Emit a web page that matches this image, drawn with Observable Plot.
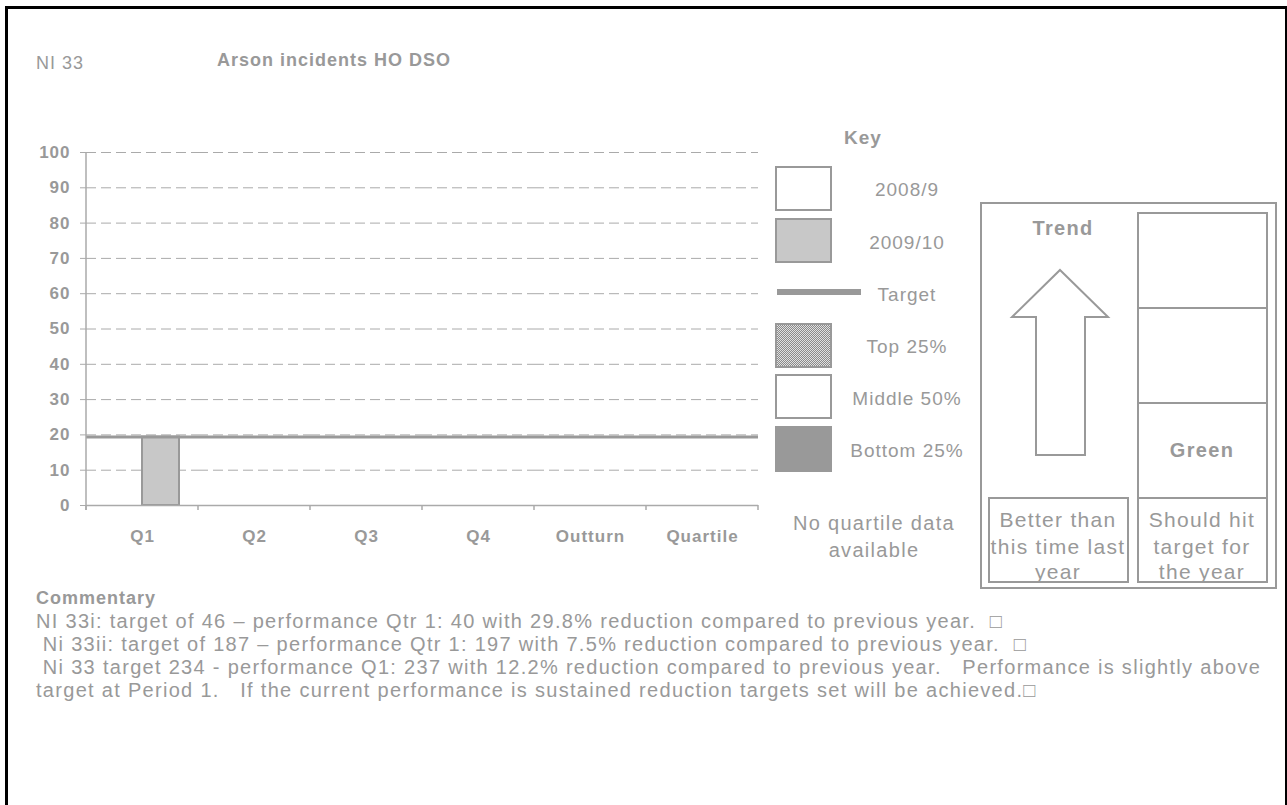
<!DOCTYPE html>
<html>
<head>
<meta charset="utf-8">
<script src="https://cdn.jsdelivr.net/npm/d3@7"></script>
<script src="https://cdn.jsdelivr.net/npm/@observablehq/plot@0.6"></script>
<style>
  html, body { margin: 0; padding: 0; background: #fff; }
  body { font-family: "Liberation Sans", Arial, sans-serif; color: #999; }
  #page { position: relative; width: 1287px; height: 805px; overflow: hidden; background: #fff; }
  #border { position: absolute; left: 5px; top: 6px; width: 1283px; height: 830px; border: 3px solid #000; box-sizing: border-box; }
  .t { position: absolute; white-space: nowrap; line-height: 1; font-size: 18px; letter-spacing: 1px; color: #999; }
  .c { transform: translate(-50%, -50%); text-align: center; }
  .l { transform: translate(0, -50%); }
  .b { font-weight: bold; }
  .k { font-size: 19px; }
  .m { font-size: 20px; letter-spacing: 1.3px; }
  .p { font-size: 21px; letter-spacing: 1.3px; }
  .box { position: absolute; box-sizing: border-box; border: 2px solid #999; background: #fff; }
  #chart { position: absolute; left: 0; top: 130px; }
  #trendsvg { position: absolute; left: 0; top: 0; }
</style>
</head>
<body>
<div id="page">
  <div id="border"></div>
  <div id="chart"></div>
</div>
<script>
// ---------- data ----------
const categories = ["Q1", "Q2", "Q3", "Q4", "Outturn", "Quartile"];
const series = ["2008/9", "2009/10"];
const values2008 = [null, null, null, null, null, null];
const values2009 = [19.4, null, null, null, null, null];
const targetValue = 19.4;
const yTicks = [0, 10, 20, 30, 40, 50, 60, 70, 80, 90, 100];
const keyLabels = ["2008/9", "2009/10", "Target", "Top 25%", "Middle 50%", "Bottom 25%"];
const commentary = [
  "NI 33i: target of 46 \u2013 performance Qtr 1: 40 with 29.8% reduction compared to previous year.  \u25A1",
  " Ni 33ii: target of 187 \u2013 performance Qtr 1: 197 with 7.5% reduction compared to previous year.  \u25A1",
  " Ni 33 target 234 - performance Q1: 237 with 12.2% reduction compared to previous year.   Performance is slightly above",
  "target at Period 1.   If the current performance is sustained reduction targets set will be achieved.\u25A1"
];

// one row per category and series (missing values kept so every category gets its facet)
const rows = categories.flatMap((c, i) => [
  {cat: c, series: series[0], value: values2008[i]},
  {cat: c, series: series[1], value: values2009[i]}
]);

// ---------- chart ----------
const plot = Plot.plot({
  width: 780,
  height: 430,
  marginLeft: 84,
  marginRight: 21,
  marginTop: 22,
  marginBottom: 55,
  fx: {domain: categories, padding: 0, label: null},
  x: {domain: series, paddingInner: 0, paddingOuter: 0.48, axis: null},
  y: {domain: [0, 100], label: null},
  color: {domain: series, range: ["#ffffff", "#c8c8c8"]},
  style: {fontFamily: '"Liberation Sans", Arial, sans-serif', color: "#999", background: "transparent", letterSpacing: "1px"},
  marks: [
    Plot.ruleY(yTicks.filter(v => v > 0), {stroke: "#aaa", strokeWidth: 1, strokeDasharray: "10,5"}),
    Plot.barY(rows, {fx: "cat", x: "series", y: "value", fill: "series", stroke: "#999", strokeWidth: 2}),
    Plot.ruleY([targetValue], {stroke: "#999", strokeWidth: 3}),
    Plot.ruleY([0], {stroke: "#aaa", strokeWidth: 1.5}),
    Plot.axisY({ticks: yTicks, tickSize: 6, tickPadding: 10, fontSize: 17, fontWeight: "bold", label: null, stroke: "#aaa", fill: "#999", tickFormat: d => String(d)}),
    Plot.axisFx({anchor: "bottom", tickSize: 0, tickPadding: 24, fontSize: 17, fontWeight: "bold", label: null, fill: "#999"})
  ]
});
document.getElementById("chart").appendChild(plot);

// axis line and category boundary ticks, from the plot's own scales
const fxS = plot.scale("fx");
const yS = plot.scale("y");
const svg = d3.select(plot.tagName.toLowerCase() === "svg" ? plot : plot.querySelector("svg"));
const bw = fxS.bandwidth;
const bounds = categories.map(c => fxS.apply(c)).concat([fxS.apply(categories[categories.length - 1]) + bw]);
const ag = svg.append("g").attr("stroke", "#aaa").attr("stroke-width", 1.5);
ag.append("line").attr("x1", bounds[0]).attr("x2", bounds[0]).attr("y1", yS.apply(100)).attr("y2", yS.apply(0) + 5);
bounds.forEach(b => ag.append("line").attr("x1", b).attr("x2", b).attr("y1", yS.apply(0)).attr("y2", yS.apply(0) + 5));

// ---------- text & key ----------
const page = document.getElementById("page");
function txt(s, x, y, cls) {
  const d = document.createElement("div");
  d.className = "t " + cls;
  d.style.left = x + "px";
  d.style.top = y + "px";
  d.textContent = s;
  page.appendChild(d);
  return d;
}
function box(x, y, w, h, extra) {
  const d = document.createElement("div");
  d.className = "box";
  Object.assign(d.style, {left: x + "px", top: y + "px", width: w + "px", height: h + "px"}, extra || {});
  page.appendChild(d);
  return d;
}

txt("NI 33", 36, 63, "l");
txt("Arson incidents HO DSO", 217, 60, "l b");

// Key
txt("Key", 863, 137, "c b k");
box(775, 166, 57, 45);
box(775, 218, 57, 45, {background: "#c8c8c8"});
const tl = document.createElement("div");
Object.assign(tl.style, {position: "absolute", left: "777px", top: "289px", width: "84px", height: "6px", background: "#999"});
page.appendChild(tl);
box(775, 323, 57, 45, {background: "repeating-conic-gradient(#8a8a8a 0 25%, #e0e0e0 0 50%) 0 0 / 2px 2px"});
box(775, 374, 57, 45);
box(775, 426, 57, 46, {background: "#999"});
const keyY = [189, 242, 294, 346, 398, 450];
keyLabels.forEach((s, i) => txt(s, 907, keyY[i], "c k"));

txt("No quartile data", 874, 523, "c m");
txt("available", 874, 550, "c m");

// Trend / status panel
box(980, 202, 297, 387);
box(988, 497, 141, 86);
box(1137, 212, 131, 97);
box(1137, 307, 131, 97);
box(1137, 402, 131, 97);
box(1137, 497, 131, 86);
txt("Trend", 1063, 228, "c b m");
txt("Green", 1202, 450, "c b m");
txt("Better than", 1058, 519, "c p");
txt("this time last", 1058, 546, "c p");
txt("year", 1058, 571, "c p");
txt("Should hit", 1202, 519, "c p");
txt("target for", 1202, 546, "c p");
txt("the year", 1202, 571, "c p");

const ns = "http://www.w3.org/2000/svg";
const tsvg = document.createElementNS(ns, "svg");
tsvg.setAttribute("id", "trendsvg");
tsvg.setAttribute("width", 1287);
tsvg.setAttribute("height", 805);
const poly = document.createElementNS(ns, "polygon");
poly.setAttribute("points", "1060,270 1108,317 1085,317 1085,455 1036,455 1036,317 1012,317");
poly.setAttribute("fill", "#fff");
poly.setAttribute("stroke", "#999");
poly.setAttribute("stroke-width", "2");
tsvg.appendChild(poly);
page.appendChild(tsvg);

// Commentary
txt("Commentary", 36, 598, "l b");
const cy = [621, 644, 667, 690];
commentary.forEach((s, i) => { const d = txt(s, 36, cy[i], "l m"); d.style.whiteSpace = "pre"; });
</script>
</body>
</html>
